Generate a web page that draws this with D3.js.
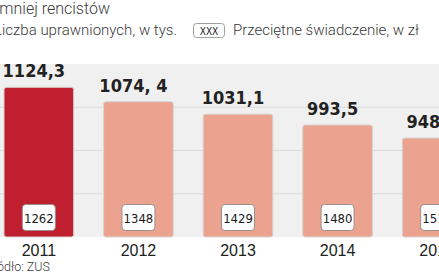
<!DOCTYPE html>
<html>
<head>
<meta charset="utf-8">
<script src="https://cdn.jsdelivr.net/npm/d3@7"></script>
<style>
  body { margin: 0; background: #fff; }
  svg { display: block; }
  .light { font-family: Roboto, "Liberation Sans", sans-serif; font-weight: 300; fill: #3a3a3a; }
  .narrow { font-family: "DejaVu Sans Condensed", "Liberation Sans Narrow", sans-serif; }
</style>
</head>
<body>
<script>
const years = ['2011', '2012', '2013', '2014', '2015']
const recipients = [1124.3, 1074.4, 1031.1, 993.5, 948.3]
const recipientLabels = ['1124,3', '1074, 4', '1031,1', '993,5', '948,3']
const benefits = [1262, 1348, 1429, 1480, 1515]
const gridValues = [755, 905, 1055]

const width = 439, height = 274

const svg = d3.select('body').append('svg')
    .attr('width', width)
    .attr('height', height)

let x = d3.scaleBand().domain(years).range([4, 472]).paddingInner(0.3).paddingOuter(0)
let y = d3.scaleLinear().domain([605, 1205]).range([237, 64])

// plot background + grid
svg.append('rect')
    .attr('x', 0).attr('y', y(1205))
    .attr('width', width).attr('height', y(605) - y(1205))
    .attr('fill', '#f0f0f0')
svg.append('g')
    .selectAll('line')
    .data(gridValues).enter()
    .append('line')
    .attr('x1', 0).attr('x2', width)
    .attr('y1', d => y(d)).attr('y2', d => y(d))
    .attr('stroke', '#dcdcdc')
    .attr('stroke-width', 1)

// title + legend
svg.append('text')
    .attr('class', 'light')
    .attr('text-anchor', 'end')
    .attr('x', 110).attr('y', 14)
    .style('font-size', '16px')
    .text('Coraz mniej rencistów')
svg.append('text')
    .attr('class', 'light')
    .attr('text-anchor', 'end')
    .attr('x', 177).attr('y', 35)
    .style('font-size', '15px')
    .text('Liczba uprawnionych, w tys.')
svg.append('rect')
    .attr('x', 193.5).attr('y', 23.5)
    .attr('width', 31).attr('height', 14)
    .attr('rx', 3)
    .attr('fill', '#fff')
    .attr('stroke', '#a0a0a0')
svg.append('text')
    .attr('class', 'narrow')
    .attr('text-anchor', 'middle')
    .attr('x', 209).attr('y', 34.5)
    .style('font-size', '10px')
    .attr('fill', '#222')
    .text('XXX')
svg.append('text')
    .attr('class', 'light')
    .attr('x', 233).attr('y', 35)
    .style('font-size', '15px')
    .text('Przeciętne świadczenie, w zł')

// bars
svg.append('g')
    .selectAll('rect')
    .data(recipients).enter()
    .append('rect')
    .attr('x', (d, i) => x(years[i]))
    .attr('y', d => y(d))
    .attr('width', x.bandwidth())
    .attr('height', d => y(605) - y(d))
    .attr('rx', 2.5)
    .attr('fill', (d, i) => i === 0 ? '#c01f30' : '#eba28f')
    .attr('stroke', '#d9d4d2')
    .attr('stroke-width', 1)

// value labels above bars
svg.append('g')
    .selectAll('text')
    .data(recipients).enter()
    .append('text')
    .attr('class', 'narrow')
    .attr('text-anchor', 'middle')
    .attr('x', (d, i) => x(years[i]) + x.bandwidth() / 2 - 5)
    .attr('y', d => y(d) - 10)
    .style('font-weight', 'bold')
    .style('font-size', '18px')
    .attr('fill', '#222')
    .text((d, i) => recipientLabels[i])

// benefit boxes
const boxes = svg.append('g')
    .selectAll('g')
    .data(benefits).enter()
    .append('g')
    .attr('transform', (d, i) => 'translate(' + (x(years[i]) + x.bandwidth() / 2) + ',0)')
boxes.append('rect')
    .attr('x', -16.5).attr('y', 204.5)
    .attr('width', 33).attr('height', 26)
    .attr('rx', 3.5)
    .attr('fill', '#fff')
    .attr('stroke', '#9a8f8c')
    .attr('stroke-width', 1)
boxes.append('text')
    .attr('class', 'narrow')
    .attr('text-anchor', 'middle')
    .attr('y', 222.5)
    .style('font-size', '13px')
    .attr('fill', '#1a1a1a')
    .text(d => d)

// x axis labels
svg.append('g')
    .selectAll('text')
    .data(years).enter()
    .append('text')
    .attr('text-anchor', 'middle')
    .attr('x', d => x(d) + x.bandwidth() / 2)
    .attr('y', 256)
    .style('font-family', '"Liberation Sans", sans-serif')
    .style('font-size', '16px')
    .attr('fill', '#222')
    .text(d => d)

svg.append('text')
    .attr('class', 'light')
    .attr('text-anchor', 'end')
    .attr('x', 50).attr('y', 271)
    .style('font-size', '12.5px')
    .text('Źródło: ZUS')
</script>
</body>
</html>
